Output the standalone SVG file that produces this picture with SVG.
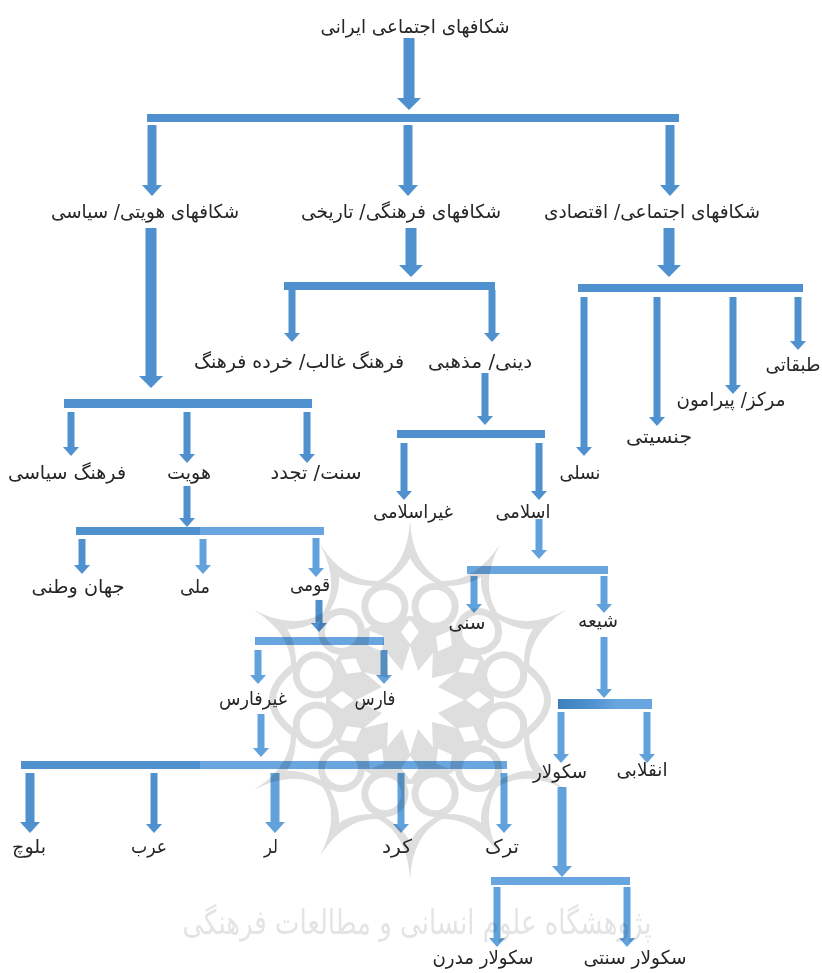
<svg xmlns="http://www.w3.org/2000/svg" xmlns:xlink="http://www.w3.org/1999/xlink" width="822" height="973" viewBox="0 0 822 973">
<style>
.t{font-family:"DejaVu Sans","Noto Sans",sans-serif;font-size:19px;fill:#262626;text-anchor:middle;direction:rtl}
.wf{fill:#dedede}
.wl{fill:none;stroke:#dedede;stroke-width:7}
.wo{fill:#fff;stroke:#dedede;stroke-width:7}
.ww{fill:#fff}
.wt{font-family:"DejaVu Sans",sans-serif;font-size:26px;fill:#e4e4e4;text-anchor:middle;direction:rtl}
#connectors{mix-blend-mode:multiply}
.b{fill:#4f90cf}
.bl{fill:#69a5de}
line{stroke:#4f90cf}
line.l,line.e{stroke:#62a2dc}
.a{stroke-width:11;marker-end:url(#mA)}
.c{stroke-width:9;marker-end:url(#mB)}
.d{stroke-width:7;marker-end:url(#mC)}
.l{stroke-width:7;marker-end:url(#mD)}
.e{stroke-width:9;marker-end:url(#mE)}
</style>
<defs>
<marker id="mA" markerUnits="userSpaceOnUse" viewBox="0 0 12 24" refX="0" refY="12" markerWidth="12" markerHeight="24" orient="auto"><polygon points="0,0 12,12 0,24" fill="#4f90cf"/></marker>
<marker id="mB" markerUnits="userSpaceOnUse" viewBox="0 0 11 20" refX="0" refY="10" markerWidth="11" markerHeight="20" orient="auto"><polygon points="0,0 11,10 0,20" fill="#4f90cf"/></marker>
<marker id="mC" markerUnits="userSpaceOnUse" viewBox="0 0 9 16" refX="0" refY="8" markerWidth="9" markerHeight="16" orient="auto"><polygon points="0,0 9,8 0,16" fill="#4f90cf"/></marker>
<marker id="mD" markerUnits="userSpaceOnUse" viewBox="0 0 9 16" refX="0" refY="8" markerWidth="9" markerHeight="16" orient="auto"><polygon points="0,0 9,8 0,16" fill="#62a2dc"/></marker>
<marker id="mE" markerUnits="userSpaceOnUse" viewBox="0 0 11 20" refX="0" refY="10" markerWidth="11" markerHeight="20" orient="auto"><polygon points="0,0 11,10 0,20" fill="#62a2dc"/></marker>
<linearGradient id="gb"><stop offset="0" stop-color="#3f7fbd"/><stop offset=".35" stop-color="#4f90cf"/><stop offset=".6" stop-color="#69a5de"/></linearGradient>
<path id="sp" class="wf" d="M410 520Q412 565 442 581L446 589Q418 575 410 558Q402 575 374 589L378 581Q408 565 410 520Z"/>
<path id="ar" class="wl" d="M444 585Q410 540 376 585"/>
<circle id="ov" class="wo" cx="410" cy="603" r="20"/>
<polygon id="di" class="ww" points="410,620 419,632 410,644 401,632"/>
</defs>
<g id="watermark">
<circle class="wf" cx="410" cy="700" r="84"/>
<use xlink:href="#sp"/>
<use xlink:href="#sp" transform="rotate(30 410 700)"/>
<use xlink:href="#sp" transform="rotate(60 410 700)"/>
<use xlink:href="#ar" transform="rotate(90 410 700)"/>
<use xlink:href="#sp" transform="rotate(120 410 700)"/>
<use xlink:href="#sp" transform="rotate(150 410 700)"/>
<use xlink:href="#sp" transform="rotate(180 410 700)"/>
<use xlink:href="#sp" transform="rotate(210 410 700)"/>
<use xlink:href="#sp" transform="rotate(240 410 700)"/>
<use xlink:href="#ar" transform="rotate(270 410 700)"/>
<use xlink:href="#sp" transform="rotate(300 410 700)"/>
<use xlink:href="#sp" transform="rotate(330 410 700)"/>
<use xlink:href="#ov" transform="rotate(15 410 700)"/>
<use xlink:href="#ov" transform="rotate(45 410 700)"/>
<use xlink:href="#ov" transform="rotate(75 410 700)"/>
<use xlink:href="#ov" transform="rotate(105 410 700)"/>
<use xlink:href="#ov" transform="rotate(135 410 700)"/>
<use xlink:href="#ov" transform="rotate(165 410 700)"/>
<use xlink:href="#ov" transform="rotate(195 410 700)"/>
<use xlink:href="#ov" transform="rotate(225 410 700)"/>
<use xlink:href="#ov" transform="rotate(255 410 700)"/>
<use xlink:href="#ov" transform="rotate(285 410 700)"/>
<use xlink:href="#ov" transform="rotate(315 410 700)"/>
<use xlink:href="#ov" transform="rotate(345 410 700)"/>
<use xlink:href="#di"/>
<use xlink:href="#di" transform="rotate(30 410 700)"/>
<use xlink:href="#di" transform="rotate(60 410 700)"/>
<use xlink:href="#di" transform="rotate(90 410 700)"/>
<use xlink:href="#di" transform="rotate(120 410 700)"/>
<use xlink:href="#di" transform="rotate(150 410 700)"/>
<use xlink:href="#di" transform="rotate(180 410 700)"/>
<use xlink:href="#di" transform="rotate(210 410 700)"/>
<use xlink:href="#di" transform="rotate(240 410 700)"/>
<use xlink:href="#di" transform="rotate(270 410 700)"/>
<use xlink:href="#di" transform="rotate(300 410 700)"/>
<use xlink:href="#di" transform="rotate(330 410 700)"/>
<polygon class="ww" points="410,646 418,671 433,653 432,678 456,672 438,687 464,700 438,713 456,728 432,722 433,747 418,729 410,754 402,729 387,747 388,722 364,728 382,713 356,700 382,687 364,672 388,678 387,653 402,671"/>
<text class="wt" transform="translate(417 934) scale(1 1.3)">پژوهشگاه علوم انسانی و مطالعات فرهنگی</text>
</g>
<g id="connectors">
<line class="a" x1="409" y1="38" x2="409" y2="98"/>
<rect class="b" x="147" y="114" width="532" height="8"/>
<line class="c" x1="152" y1="125" x2="152" y2="185"/>
<line class="c" x1="408" y1="125" x2="408" y2="185"/>
<line class="c" x1="670" y1="125" x2="670" y2="185"/>
<line class="a" x1="151" y1="228" x2="151" y2="376"/>
<line class="a" x1="411" y1="228" x2="411" y2="265"/>
<line class="a" x1="669" y1="228" x2="669" y2="265"/>
<rect class="b" x="284" y="282" width="211" height="8"/>
<rect class="b" x="578" y="284" width="225" height="8"/>
<line class="d" x1="292" y1="290" x2="292" y2="333"/>
<line class="d" x1="492" y1="290" x2="492" y2="333"/>
<line class="d" x1="584" y1="297" x2="584" y2="447"/>
<line class="d" x1="657" y1="297" x2="657" y2="417"/>
<line class="d" x1="733" y1="297" x2="733" y2="385"/>
<line class="d" x1="798" y1="297" x2="798" y2="341"/>
<line class="d" x1="485" y1="373" x2="485" y2="416"/>
<rect class="b" x="397" y="430" width="148" height="8"/>
<line class="d" x1="404" y1="443" x2="404" y2="491"/>
<line class="d" x1="539" y1="443" x2="539" y2="491"/>
<line class="l" x1="539" y1="519" x2="539" y2="550"/>
<rect class="b" x="64" y="399" width="248" height="9"/>
<line class="d" x1="71" y1="412" x2="71" y2="447"/>
<line class="d" x1="187" y1="412" x2="187" y2="454"/>
<line class="d" x1="307" y1="412" x2="307" y2="454"/>
<line class="d" x1="187" y1="486" x2="187" y2="518"/>
<rect class="b" x="76" y="527" width="124" height="8"/>
<rect class="bl" x="200" y="527" width="124" height="8"/>
<line class="d" x1="82" y1="539" x2="82" y2="565"/>
<line class="l" x1="203" y1="539" x2="203" y2="565"/>
<line class="l" x1="316" y1="538" x2="316" y2="568"/>
<line class="d" x1="319" y1="600" x2="319" y2="623"/>
<rect class="bl" x="255" y="637" width="129" height="8"/>
<rect class="bl" x="467" y="566" width="141" height="8"/>
<line class="l" x1="474" y1="576" x2="474" y2="604"/>
<line class="l" x1="604" y1="576" x2="604" y2="604"/>
<line class="l" x1="604" y1="637" x2="604" y2="689"/>
<rect fill="url(#gb)" x="558" y="699" width="94" height="10"/>
<line class="l" x1="561" y1="712" x2="561" y2="754"/>
<line class="l" x1="647" y1="712" x2="647" y2="754"/>
<line class="l" x1="258" y1="650" x2="258" y2="675"/>
<line class="l" x1="384" y1="650" x2="384" y2="675"/>
<line class="l" x1="261" y1="714" x2="261" y2="748"/>
<rect class="b" x="21" y="761" width="179" height="8"/>
<rect class="bl" x="200" y="761" width="307" height="8"/>
<line class="c" x1="30" y1="773" x2="30" y2="822"/>
<line class="d" x1="154" y1="773" x2="154" y2="824"/>
<line class="e" x1="275" y1="773" x2="275" y2="822"/>
<line class="l" x1="401" y1="773" x2="401" y2="824"/>
<line class="l" x1="504" y1="773" x2="504" y2="824"/>
<line class="e" x1="562" y1="787" x2="562" y2="866"/>
<rect class="bl" x="491" y="877" width="139" height="8"/>
<line class="l" x1="497" y1="887" x2="497" y2="938"/>
<line class="l" x1="627" y1="887" x2="627" y2="938"/>
</g>
<g id="n-root"><text class="t" x="415" y="33" textLength="189" lengthAdjust="spacingAndGlyphs">شکافهای اجتماعی ایرانی</text></g>
<g id="n-identity"><text class="t" x="145" y="218" textLength="188" lengthAdjust="spacingAndGlyphs">شکافهای هویتی/ سیاسی</text></g>
<g id="n-culture"><text class="t" x="401" y="218" textLength="200" lengthAdjust="spacingAndGlyphs">شکافهای فرهنگی/ تاریخی</text></g>
<g id="n-social"><text class="t" x="652" y="218" textLength="216" lengthAdjust="spacingAndGlyphs">شکافهای اجتماعی/ اقتصادی</text></g>
<g id="n-dominant"><text class="t" x="299" y="368" textLength="210" lengthAdjust="spacingAndGlyphs">فرهنگ غالب/ خرده فرهنگ</text></g>
<g id="n-religious"><text class="t" x="480" y="368" textLength="104" lengthAdjust="spacingAndGlyphs">دینی/ مذهبی</text></g>
<g id="n-class"><text class="t" x="793" y="371" textLength="55" lengthAdjust="spacingAndGlyphs">طبقاتی</text></g>
<g id="n-center"><text class="t" x="731" y="406" textLength="109" lengthAdjust="spacingAndGlyphs">مرکز/ پیرامون</text></g>
<g id="n-gender"><text class="t" x="659" y="443" textLength="66" lengthAdjust="spacingAndGlyphs">جنسیتی</text></g>
<g id="n-gen"><text class="t" x="580" y="479" textLength="41" lengthAdjust="spacingAndGlyphs">نسلی</text></g>
<g id="n-polcult"><text class="t" x="67" y="479" textLength="118" lengthAdjust="spacingAndGlyphs">فرهنگ سیاسی</text></g>
<g id="n-hoviat"><text class="t" x="189" y="479" textLength="44" lengthAdjust="spacingAndGlyphs">هویت</text></g>
<g id="n-tradition"><text class="t" x="316" y="479" textLength="91" lengthAdjust="spacingAndGlyphs">سنت/ تجدد</text></g>
<g id="n-nonislam"><text class="t" x="413" y="518" textLength="80" lengthAdjust="spacingAndGlyphs">غیراسلامی</text></g>
<g id="n-islam"><text class="t" x="523" y="518" textLength="55" lengthAdjust="spacingAndGlyphs">اسلامی</text></g>
<g id="n-cosmo"><text class="t" x="78" y="593" textLength="93" lengthAdjust="spacingAndGlyphs">جهان وطنی</text></g>
<g id="n-national"><text class="t" x="195" y="593" textLength="30" lengthAdjust="spacingAndGlyphs">ملی</text></g>
<g id="n-ethnic"><text class="t" x="310" y="591" textLength="40" lengthAdjust="spacingAndGlyphs">قومی</text></g>
<g id="n-sunni"><text class="t" x="467" y="629" textLength="37" lengthAdjust="spacingAndGlyphs">سنی</text></g>
<g id="n-shia"><text class="t" x="598" y="627" textLength="40" lengthAdjust="spacingAndGlyphs">شیعه</text></g>
<g id="n-nonfars"><text class="t" x="253" y="705" textLength="68" lengthAdjust="spacingAndGlyphs">غیرفارس</text></g>
<g id="n-fars"><text class="t" x="375" y="705" textLength="41" lengthAdjust="spacingAndGlyphs">فارس</text></g>
<g id="n-secular"><text class="t" x="560" y="778" textLength="54" lengthAdjust="spacingAndGlyphs">سکولار</text></g>
<g id="n-revol"><text class="t" x="642" y="776" textLength="51" lengthAdjust="spacingAndGlyphs">انقلابی</text></g>
<g id="n-baluch"><text class="t" x="29" y="853" textLength="34" lengthAdjust="spacingAndGlyphs">بلوچ</text></g>
<g id="n-arab"><text class="t" x="149" y="853" textLength="36" lengthAdjust="spacingAndGlyphs">عرب</text></g>
<g id="n-lor"><text class="t" x="271" y="853" textLength="14" lengthAdjust="spacingAndGlyphs">لر</text></g>
<g id="n-kurd"><text class="t" x="397" y="853" textLength="30" lengthAdjust="spacingAndGlyphs">کرد</text></g>
<g id="n-turk"><text class="t" x="502" y="853" textLength="34" lengthAdjust="spacingAndGlyphs">ترک</text></g>
<g id="n-secmod"><text class="t" x="483" y="964" textLength="101" lengthAdjust="spacingAndGlyphs">سکولار مدرن</text></g>
<g id="n-sectrad"><text class="t" x="635" y="964" textLength="103" lengthAdjust="spacingAndGlyphs">سکولار سنتی</text></g>
</svg>
